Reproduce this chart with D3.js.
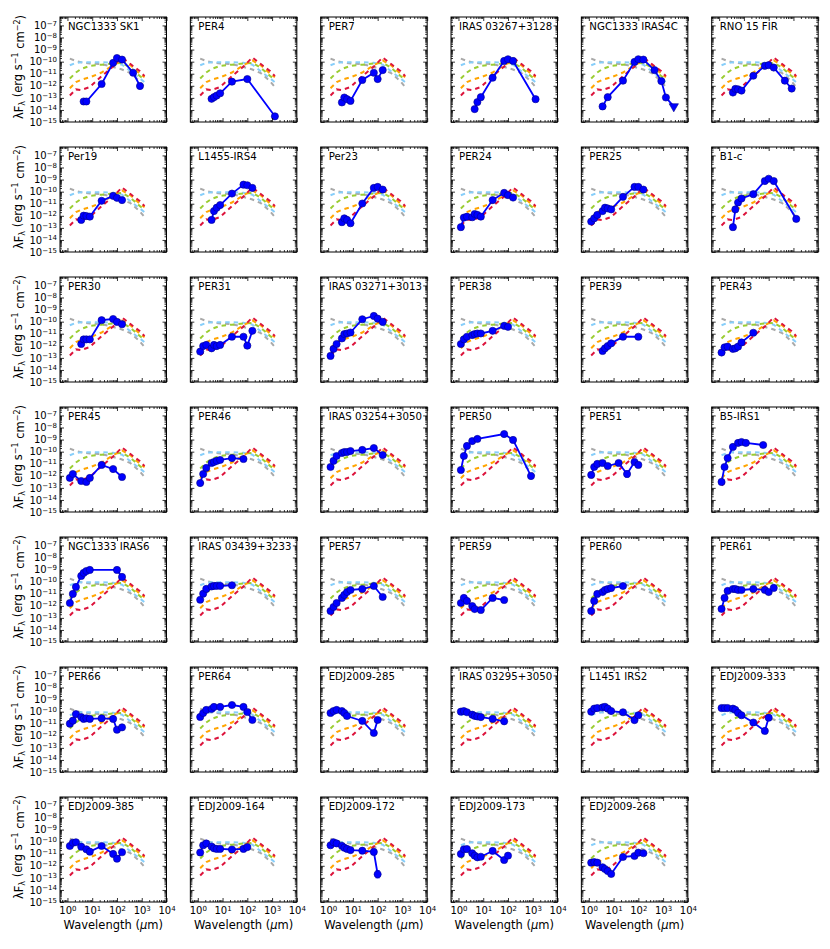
<!DOCTYPE html>
<html>
<head>
<meta charset="utf-8">
<title>Protostar SEDs</title>
<script src="https://d3js.org/d3.v7.min.js"></script>
<style>
  body { margin: 0; background: #fff; }
  text { font-family: "DejaVu Sans", sans-serif; fill: #000; }
  .tick line { stroke: #000; stroke-width: 0.8px; }
</style>
</head>
<body>
<svg width="830" height="949"></svg>
<script>
// source names, one panel each
const names = ["NGC1333 SK1", "PER4", "PER7", "IRAS 03267+3128", "NGC1333 IRAS4C", "RNO 15 FIR",
  "Per19", "L1455-IRS4", "Per23", "PER24", "PER25", "B1-c",
  "PER30", "PER31", "IRAS 03271+3013", "PER38", "PER39", "PER43",
  "PER45", "PER46", "IRAS 03254+3050", "PER50", "PER51", "B5-IRS1",
  "NGC1333 IRAS6", "IRAS 03439+3233", "PER57", "PER59", "PER60", "PER61",
  "PER66", "PER64", "EDJ2009-285", "IRAS 03295+3050", "L1451 IRS2", "EDJ2009-333",
  "EDJ2009-385", "EDJ2009-164", "EDJ2009-172", "EDJ2009-173", "EDJ2009-268"];

// wavelengths (micron) of each photometric point
const lams = [
  [4.5, 5.8, 24, 70, 100, 160, 450, 850],
  [3.6, 4.5, 5.8, 8, 24, 100, 1300],
  [3.6, 4.5, 5.8, 8, 24, 70, 100, 160],
  [4.5, 5.8, 8, 24, 70, 100, 160, 1300],
  [3.6, 5.8, 24, 70, 100, 160, 450, 850, 1300, 2700],
  [3.6, 4.5, 5.8, 8, 24, 70, 100, 160, 450, 850],
  [3.6, 4.5, 5.8, 8, 24, 70, 100, 160],
  [3.6, 4.5, 5.8, 8, 24, 70, 100, 160],
  [3.6, 4.5, 5.8, 8, 24, 70, 100, 160],
  [1.25, 1.65, 2.2, 3.6, 4.5, 5.8, 8, 24, 70, 100, 160],
  [1.25, 1.65, 2.2, 3.6, 4.5, 5.8, 8, 24, 70, 100, 160],
  [3.6, 4.5, 5.8, 8, 24, 70, 100, 160, 1300],
  [3.6, 4.5, 5.8, 8, 24, 70, 100, 160],
  [1.25, 1.65, 2.2, 3.6, 4.5, 5.8, 8, 24, 70, 100, 160],
  [1.25, 1.65, 2.2, 3.6, 4.5, 5.8, 8, 24, 70, 100, 160],
  [1.25, 1.65, 2.2, 3.6, 4.5, 5.8, 8, 24, 70, 100],
  [3.6, 4.5, 5.8, 8, 24, 100],
  [1.25, 1.65, 2.2, 3.6, 4.5, 5.8, 8, 24],
  [1.25, 1.65, 3.6, 5.8, 8, 24, 70, 160],
  [1.25, 1.65, 2.2, 3.6, 4.5, 5.8, 8, 24, 70],
  [1.25, 1.65, 2.2, 3.6, 4.5, 5.8, 8, 24, 70, 160],
  [1.25, 1.65, 2.2, 3.6, 5.8, 70, 160, 850],
  [1.25, 1.65, 2.2, 3.6, 5.8, 16, 35, 70, 100],
  [1.25, 1.65, 2.2, 3.6, 5.8, 8, 12, 60],
  [1.25, 1.65, 2.2, 3.6, 4.5, 5.8, 8, 100, 160],
  [1.25, 1.65, 2.2, 3.6, 4.5, 5.8, 8, 24],
  [1.25, 1.65, 2.2, 3.6, 4.5, 5.8, 8, 24, 70, 160],
  [1.25, 1.65, 2.2, 3.6, 4.5, 8, 24, 70],
  [1.25, 1.65, 2.2, 3.6, 4.5, 5.8, 8, 24],
  [1.25, 1.65, 2.2, 3.6, 4.5, 5.8, 8, 24, 70, 100, 160],
  [1.25, 1.65, 2.2, 3.6, 4.5, 5.8, 8, 24, 70, 100, 160],
  [1.25, 1.65, 2.2, 3.6, 4.5, 8, 24, 70, 100, 160],
  [1.25, 1.65, 2.2, 3.6, 4.5, 5.8, 24, 70, 100],
  [1.25, 1.65, 2.2, 3.6, 4.5, 5.8, 8, 24, 70],
  [1.25, 1.65, 2.2, 3.6, 4.5, 5.8, 8, 24, 70, 100],
  [1.25, 1.65, 2.2, 3.6, 4.5, 5.8, 8, 24, 70, 100],
  [1.25, 1.65, 2.2, 3.6, 5.8, 8, 24, 70, 100, 160],
  [1.25, 1.65, 2.2, 3.6, 4.5, 5.8, 8, 24, 70, 100],
  [1.25, 1.65, 2.2, 3.6, 4.5, 5.8, 8, 24, 70, 100],
  [1.25, 1.65, 2.2, 3.6, 4.5, 5.8, 8, 24, 70, 100],
  [1.25, 1.65, 2.2, 3.6, 4.5, 5.8, 8, 24, 70, 100, 160]
];

// log10 of lambda F_lambda (erg s-1 cm-2)
const logF = [
  [-13.3, -13.3, -11.85, -10.1, -9.7, -9.83, -10.92, -12.02],
  [-13.08, -12.94, -12.81, -12.62, -11.66, -11.44, -14.53],
  [-13.38, -12.97, -13.11, -13.25, -11.52, -10.92, -11.44, -10.7],
  [-13.93, -13.35, -12.94, -11.33, -9.94, -9.8, -9.94, -13.11],
  [-13.71, -12.94, -11.58, -10.02, -9.8, -9.83, -10.7, -11.61, -12.97, -13.71],
  [-12.56, -12.26, -12.29, -12.4, -11.17, -10.35, -10.29, -10.49, -11.58, -12.23],
  [-12.34, -11.99, -12.02, -12.07, -10.76, -10.35, -10.51, -10.7],
  [-12.34, -11.61, -11.33, -11.11, -10.16, -9.42, -9.47, -9.69],
  [-12.53, -12.21, -12.34, -12.62, -10.98, -9.69, -9.61, -9.83],
  [-12.94, -12.15, -12.07, -12.12, -11.85, -11.93, -12.07, -10.7, -10.1, -10.29, -10.49],
  [-12.48, -12.21, -11.93, -11.61, -11.33, -11.39, -11.47, -10.43, -9.61, -9.61, -9.83],
  [-12.94, -11.47, -10.9, -10.57, -10.21, -9.12, -8.93, -9.12, -12.26],
  [-11.85, -11.47, -11.47, -11.47, -9.88, -9.78, -10.02, -10.21],
  [-12.48, -12.02, -11.93, -12.21, -11.93, -12.02, -11.93, -11.25, -11.25, -11.99, -10.76],
  [-12.84, -12.26, -11.85, -11.39, -11.03, -10.98, -10.9, -9.8, -9.53, -9.75, -10.02],
  [-11.85, -11.47, -11.25, -11.11, -11.03, -10.98, -10.98, -10.76, -10.35, -10.43],
  [-12.43, -12.21, -12.02, -11.8, -11.25, -11.25],
  [-12.56, -12.13, -12.07, -12.26, -12.21, -12.07, -11.72, -10.92],
  [-12.18, -11.85, -12.43, -12.51, -12.18, -11.1, -11.44, -12.1],
  [-12.6, -11.85, -11.35, -10.94, -10.86, -10.77, -10.69, -10.53, -10.61],
  [-11.27, -10.77, -10.36, -10.11, -10.03, -10.03, -9.95, -9.86, -9.7, -10.28],
  [-11.52, -10.36, -9.53, -9.12, -8.95, -8.54, -9.03, -12.02],
  [-11.93, -11.27, -11.02, -10.94, -11.19, -10.94, -11.85, -10.86, -11.1],
  [-12.51, -11.27, -10.53, -9.61, -9.28, -9.2, -9.28, -9.45],
  [-11.77, -11.02, -10.44, -9.53, -9.28, -9.12, -9.03, -9.03, -9.61],
  [-11.5, -11.0, -10.6, -10.4, -10.35, -10.35, -10.35, -10.3],
  [-12.43, -12.1, -11.77, -11.35, -11.1, -10.86, -10.69, -10.61, -10.36, -11.27],
  [-11.77, -11.35, -11.6, -12.02, -12.27, -12.35, -11.35, -11.52],
  [-12.43, -11.6, -11.02, -10.86, -10.69, -10.61, -10.53, -10.36],
  [-12.26, -11.35, -10.77, -10.61, -10.61, -10.69, -10.69, -10.61, -10.69, -10.86, -10.52],
  [-11.0, -10.75, -10.2, -10.45, -10.6, -10.55, -10.6, -10.55, -10.6, -11.5, -11.3],
  [-10.44, -10.11, -9.86, -9.78, -9.61, -9.61, -9.45, -9.61, -10.03, -10.69],
  [-10.11, -9.95, -9.86, -9.95, -10.11, -10.36, -10.77, -11.77, -10.69],
  [-10.0, -9.95, -10.05, -10.25, -10.35, -10.4, -10.45, -10.6, -10.8],
  [-10.0, -9.75, -9.7, -9.65, -9.6, -9.75, -9.95, -10.05, -10.7, -10.3],
  [-9.7, -9.7, -9.7, -9.75, -9.85, -10.1, -10.3, -10.9, -11.6, -10.5],
  [-10.36, -10.09, -10.05, -10.42, -10.63, -10.83, -10.36, -11.02, -11.41, -10.88],
  [-10.9, -10.3, -10.15, -10.4, -10.55, -10.6, -10.6, -10.65, -10.6, -10.45],
  [-10.3, -10.05, -10.15, -10.35, -10.5, -10.6, -10.7, -10.75, -10.85, -12.7],
  [-11.02, -10.63, -10.61, -10.96, -11.16, -11.3, -11.25, -10.77, -11.52, -11.16],
  [-11.74, -11.69, -11.74, -12.12, -12.27, -12.43, -12.68, -11.27, -11.19, -10.91, -10.96]
];

// upper limits and error bars: panel index, point index, error in dex
const limPanel = [4];
const limPoint = [9];
const errPanel = [22, 38];
const errPoint = [6, 9];
const errDex = [0.25, 0.3];

// comparison template SEDs, log10 lambda F_lambda
const tplLam = [1.25, 2.2, 3.6, 8, 24, 70, 160, 350, 850, 1300];
const tplGray = [-9.75, -9.95, -10.05, -10.15, -10.2, -10.45, -10.65, -10.95, -11.65, -12.1];
const tplBlue = [-10.3, -10.1, -10.05, -10.05, -10.05, -10.1, -10.25, -10.8, -11.4, -11.7];
const tplGreen = [-11.4, -10.9, -10.6, -10.35, -10.25, -10.15, -10.1, -10.5, -11.2, -11.5];
const tplOrange = [-12.2, -11.7, -11.5, -11.3, -10.9, -10.3, -9.9, -10.3, -11.0, -11.3];
const tplRed = [-12.8, -12.3, -12.35, -12.1, -11.2, -10.4, -9.65, -10.2, -10.8, -11.2];

// tick labels (exponents)
const xTickExp = [0, 1, 2, 3, 4];
const yTickExp = [-15, -14, -13, -12, -11, -10, -9, -8, -7];

const svg = d3.select("svg");
const W = 106.5, H = 105;
const nCol = 6;
const panelX = i => 60 + (i % nCol) * 130.34;
const panelY = i => 17 + Math.floor(i / nCol) * 130;
const lastRow = Math.floor((names.length - 1) / nCol);

const x = d3.scaleLog().domain([0.5, 1e4]).range([0, W]);
const y = d3.scaleLog().domain([1e-15, 5e-7]).range([H, 0]);

const xMajor = xTickExp.map(e => Math.pow(10, e));
const yMajor = yTickExp.map(e => Math.pow(10, e));
const isPow = v => Math.abs(Math.log10(v) - Math.round(Math.log10(v))) < 1e-6;
const xMinor = x.ticks().filter(v => !isPow(v));
const yMinor = y.ticks().filter(v => !isPow(v));

const templates = [
  { vals: tplGray, color: "#a9a9a9" },
  { vals: tplBlue, color: "#87cefa" },
  { vals: tplGreen, color: "#9acd32" },
  { vals: tplOrange, color: "#ffa500" },
  { vals: tplRed, color: "#dc143c" }
];

const line = d3.line()
  .x(d => x(d[0]))
  .y(d => y(Math.pow(10, d[1])));

function supLabels(sel, exps) {
  sel.selectAll(".tick text").each(function (d, k) {
    const t = d3.select(this).text("");
    t.append("tspan").text("10");
    const e = exps[k];
    t.append("tspan").attr("dy", "-0.45em").attr("font-size", "7px")
      .text(e < 0 ? "\u2212" + Math.abs(e) : e);
  });
}

function addAxes(g, showX, showY) {
  const ax = [
    [d3.axisBottom, `translate(0,${H})`, x, showX],
    [d3.axisTop, "translate(0,0)", x, false],
    [d3.axisLeft, "translate(0,0)", y, showY],
    [d3.axisRight, `translate(${W},0)`, y, false]
  ];
  ax.forEach(([fn, tr, sc, lab]) => {
    const isX = sc === x;
    const minor = g.append("g").attr("transform", tr)
      .call(fn(sc).tickValues(isX ? xMinor : yMinor).tickSize(-2).tickFormat(""));
    minor.select(".domain").remove();
    const major = g.append("g").attr("transform", tr)
      .call(fn(sc).tickValues(isX ? xMajor : yMajor).tickSize(-4)
        .tickPadding(isX ? 5 : 3).tickFormat(() => ""));
    major.select(".domain").remove();
    major.attr("font-family", null).attr("font-size", "10px");
    if (lab) supLabels(major, isX ? xTickExp : yTickExp);
    else major.selectAll(".tick text").remove();
  });
  g.append("rect").attr("width", W).attr("height", H)
    .attr("fill", "none").attr("stroke", "#000").attr("stroke-width", 1);
}

names.forEach((name, i) => {
  const g = svg.append("g").attr("transform", `translate(${panelX(i)},${panelY(i)})`);
  const col = i % nCol, row = Math.floor(i / nCol);

  templates.forEach(t => {
    g.append("path")
      .datum(tplLam.map((l, k) => [l, t.vals[k]]))
      .attr("d", line)
      .attr("fill", "none")
      .attr("stroke", t.color)
      .attr("stroke-width", 2)
      .attr("stroke-dasharray", "4.5,4");
  });

  const pts = lams[i].map((l, k) => [l, logF[i][k]]);
  g.append("path").datum(pts).attr("d", line)
    .attr("fill", "none").attr("stroke", "#0000ff").attr("stroke-width", 1.8);

  errPanel.forEach((p, k) => {
    if (p !== i) return;
    const d = pts[errPoint[k]];
    const cx = x(d[0]);
    const y1 = y(Math.pow(10, d[1] - errDex[k])), y2 = y(Math.pow(10, d[1] + errDex[k]));
    g.append("line").attr("x1", cx).attr("x2", cx).attr("y1", y1).attr("y2", y2)
      .attr("stroke", "#0000ff").attr("stroke-width", 1);
    [y1, y2].forEach(yy => g.append("line").attr("x1", cx - 2).attr("x2", cx + 2)
      .attr("y1", yy).attr("y2", yy).attr("stroke", "#0000ff").attr("stroke-width", 1));
  });

  const lim = limPanel.indexOf(i) >= 0 ? limPoint[limPanel.indexOf(i)] : -1;
  pts.forEach((d, k) => {
    const cx = x(d[0]), cy = y(Math.pow(10, d[1]));
    if (k === lim) {
      g.append("path").attr("d", d3.symbol(d3.symbolTriangle, 38)())
        .attr("transform", `translate(${cx},${cy}) rotate(180)`)
        .attr("fill", "#0000ff").attr("stroke", "#00008b").attr("stroke-width", 0.6);
    } else {
      g.append("circle").attr("cx", cx).attr("cy", cy).attr("r", 3.6)
        .attr("fill", "#0000ff").attr("stroke", "#00008b").attr("stroke-width", 0.6);
    }
  });

  addAxes(g, row === lastRow, col === 0);

  g.append("text").attr("x", 8).attr("y", 12.5).attr("font-size", "10.2px").text(name);

  if (col === 0) {
    const t = svg.append("text")
      .attr("transform", `translate(23,${panelY(i) + 50}) rotate(-90)`)
      .attr("text-anchor", "middle").attr("font-size", "11.5px");
    t.append("tspan").text("\u03bbF");
    t.append("tspan").attr("font-size", "8px").attr("dy", "0.3em").text("\u03bb");
    t.append("tspan").attr("dy", "-0.3em").text(" (erg s");
    t.append("tspan").attr("font-size", "8px").attr("dy", "-0.5em").text("\u22121");
    t.append("tspan").attr("dy", "0.5em").text(" cm");
    t.append("tspan").attr("font-size", "8px").attr("dy", "-0.5em").text("\u22122");
    t.append("tspan").attr("dy", "0.5em").text(")");
  }
  if (row === lastRow) {
    const t = svg.append("text")
      .attr("x", panelX(i) + W / 2).attr("y", panelY(i) + H + 27)
      .attr("text-anchor", "middle").attr("font-size", "11.5px");
    t.append("tspan").text("Wavelength (");
    t.append("tspan").attr("font-style", "italic").text("\u03bc");
    t.append("tspan").text("m)");
  }
});
</script>
</body>
</html>
